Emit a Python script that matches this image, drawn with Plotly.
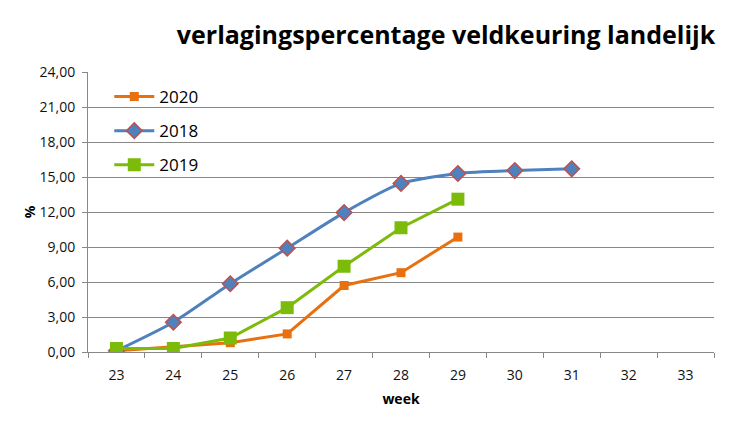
import plotly.graph_objects as go

weeks = ["23", "24", "25", "26", "27", "28", "29", "30", "31", "32", "33"]
weeks_2020 = ["23", "24", "25", "26", "27", "28", "29"]
vals_2020 = [0.1, 0.45, 0.8, 1.55, 5.7, 6.8, 9.85]
weeks_2018 = ["23", "24", "25", "26", "27", "28", "29", "30", "31"]
vals_2018 = [0.1, 2.55, 5.85, 8.9, 11.95, 14.45, 15.3, 15.55, 15.7]
weeks_2019 = ["23", "24", "25", "26", "27", "28", "29"]
vals_2019 = [0.3, 0.3, 1.2, 3.8, 7.35, 10.65, 13.1]
y_ticks = [0, 3, 6, 9, 12, 15, 18, 21, 24]

font = "Open Sans"
fig = go.Figure()
fig.add_trace(go.Scatter(x=weeks_2020, y=vals_2020, name="2020", mode="lines+markers",
                         legendgroup="a",
                         line=dict(color="#E8700F", width=3),
                         marker=dict(symbol="square", size=9, color="#E8700F")))
fig.add_trace(go.Scatter(x=weeks_2018, y=vals_2018, name="2018", mode="lines+markers",
                         legendgroup="b",
                         line=dict(color="#4F81BD", width=3, shape="spline", smoothing=0.6),
                         marker=dict(symbol="diamond", size=12, color="#4F81BD",
                                     line=dict(color="#C0504D", width=1.5))))
fig.add_trace(go.Scatter(x=weeks_2019, y=vals_2019, name="2019", mode="lines+markers",
                         legendgroup="c",
                         line=dict(color="#7DBB0A", width=3),
                         marker=dict(symbol="square", size=13, color="#7DBB0A")))

fig.update_layout(
    width=750, height=425,
    margin=dict(l=80, r=44, t=64, b=81),
    paper_bgcolor="white", plot_bgcolor="white",
    separators=",.",
    font=dict(family=font, size=14, color="#111"),
    title=dict(text="<b>verlagingspercentage veldkeuring landelijk</b>",
               x=0.943, xanchor="right", y=1 - 27 / 425, yanchor="middle",
               font=dict(family=font, size=25, color="#000")),
    showlegend=True,
    legend=dict(x=0.034, y=0.975, xanchor="left", yanchor="top",
                traceorder="grouped", tracegroupgap=9,
                bgcolor="rgba(0,0,0,0)", font=dict(size=17, color="#000"),
                itemwidth=40),
    xaxis=dict(type="category", categoryorder="array", categoryarray=weeks,
               range=[-0.5, 10.5], tickson="boundaries", ticks="outside",
               ticklen=5, tickcolor="#888", showline=True, linecolor="#888",
               linewidth=1, showgrid=False, zeroline=False, ticklabelstandoff=10,
               title=dict(text="<b>week</b>", font=dict(size=14, color="#000"), standoff=11),
               tickfont=dict(size=14, color="#111")),
    yaxis=dict(range=[0, 24], tickvals=y_ticks, tickformat=".2f",
               ticks="outside", ticklen=5, tickcolor="#888",
               showline=True, linecolor="#888", linewidth=1,
               showgrid=True, gridcolor="#888", gridwidth=1, zeroline=False,
               ticklabelstandoff=4,
               title=dict(text="<b>%</b>", font=dict(size=14, color="#000"), standoff=0),
               tickfont=dict(size=14, color="#111")),
)
fig.write_html("out.html")
